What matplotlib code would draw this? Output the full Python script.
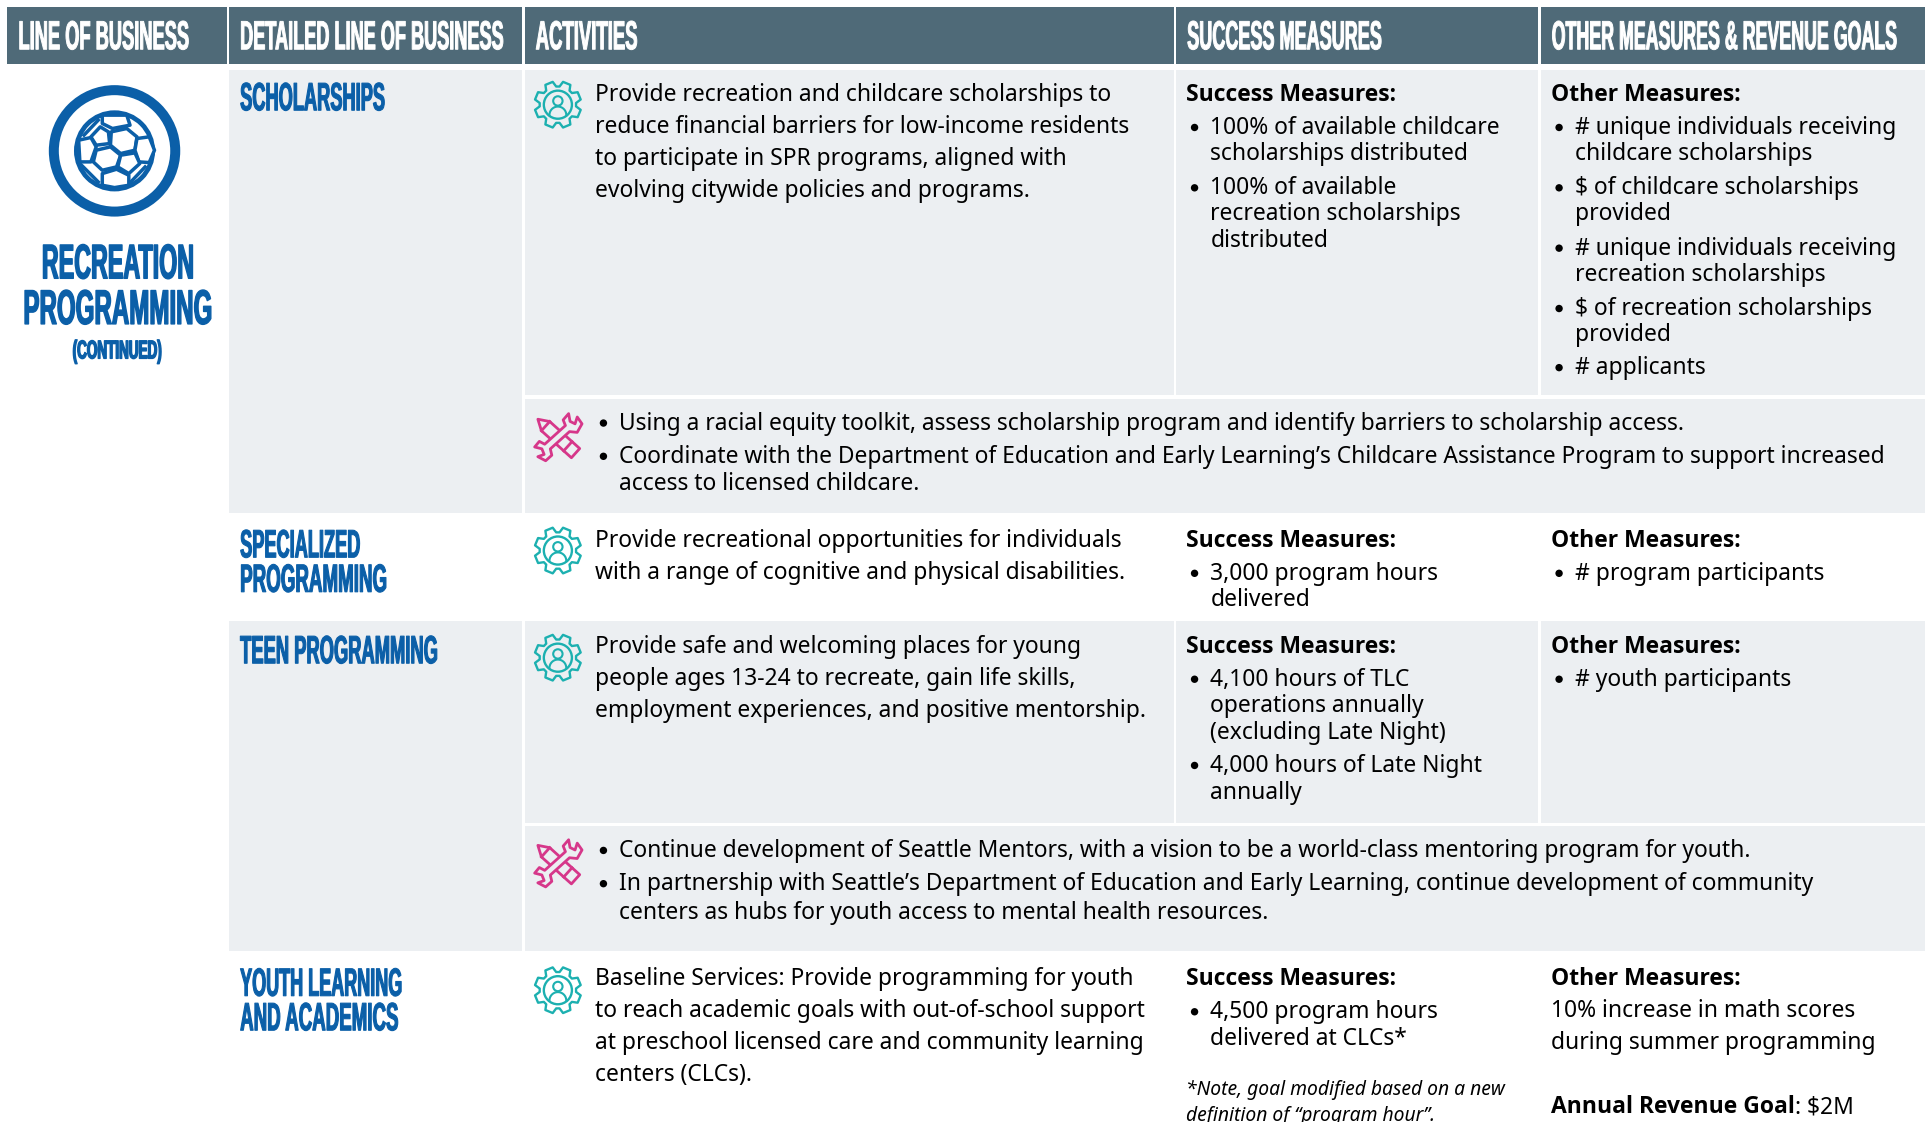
#!/usr/bin/env python3
"""Recreation programming table page, drawn in shrunk-reference pixel coordinates."""
import numpy as np, matplotlib
matplotlib.use('Agg')
import matplotlib.pyplot as plt
import matplotlib.patheffects as pe
from matplotlib.patches import Rectangle, Circle, Polygon
from matplotlib.transforms import Affine2D

# ---- Content ----
headers = [('LINE OF BUSINESS', 15, 153), ('DETAILED LINE OF BUSINESS', 195, 408), ('ACTIVITIES', 435, 517),
           ('SUCCESS MEASURES', 964, 1122), ('OTHER MEASURES & REVENUE GOALS', 1260, 1540)]
group_title = [('RECREATION', 34, 157, 226, 28.4), ('PROGRAMMING', 19, 172, 263, 28.4), ('(CONTINUED)', 59, 131, 291, 15)]
row_titles = [('SCHOLARSHIPS', 312, 89.5), ('SPECIALIZED', 292, 452.5), ('PROGRAMMING', 314, 480.5),
              ('TEEN PROGRAMMING', 355, 538.5), ('YOUTH LEARNING', 326, 808.5), ('AND ACADEMICS', 323, 836.5)]

activities = [
    ['Provide recreation and childcare scholarships to', 'reduce financial barriers for low-income residents',
     'to participate in SPR programs, aligned with', 'evolving citywide policies and programs.'],
    ['Provide recreational opportunities for individuals', 'with a range of cognitive and physical disabilities.'],
    ['Provide safe and welcoming places for young', 'people ages 13-24 to recreate, gain life skills,',
     'employment experiences, and positive mentorship.'],
    ['Baseline Services: Provide programming for youth', 'to reach academic goals with out-of-school support',
     'at preschool licensed care and community learning', 'centers (CLCs).'],
]
success = [
    [('100% of available childcare', 102, True), ('scholarships distributed', 123, False),
     ('100% of available', 151, True), ('recreation scholarships', 172, False), ('distributed', 194, False)],
    [('3,000 program hours', 464, True), ('delivered', 485, False)],
    [('4,100 hours of TLC', 550, True), ('operations annually', 571, False), ('(excluding Late Night)', 593, False),
     ('4,000 hours of Late Night', 620, True), ('annually', 642, False)],
    [('4,500 program hours', 820, True), ('delivered at CLCs*', 842, False)],
]
other = [
    [('# unique individuals receiving', 102, True), ('childcare scholarships', 123, False),
     ('$ of childcare scholarships', 151, True), ('provided', 172, False),
     ('# unique individuals receiving', 200, True), ('recreation scholarships', 221, False),
     ('$ of recreation scholarships', 249, True), ('provided', 270, False), ('# applicants', 297, True)],
    [('# program participants', 464, True)],
    [('# youth participants', 550, True)],
]
tasks = [
    [('Using a racial equity toolkit, assess scholarship program and identify barriers to scholarship access.', 342, True),
     ('Coordinate with the Department of Education and Early Learning\u2019s Childcare Assistance Program to support increased', 369, True),
     ('access to licensed childcare.', 391, False)],
    [('Continue development of Seattle Mentors, with a vision to be a world-class mentoring program for youth.', 689, True),
     ('In partnership with Seattle\u2019s Department of Education and Early Learning, continue development of community', 716, True),
     ('centers as hubs for youth access to mental health resources.', 739, False)],
]
youth_other = ['10% increase in math scores', 'during summer programming']
youth_note = ['*Note, goal modified based on a new', 'definition of \u201cprogram hour\u201d.']

# ---- Layout ----
col_x = [6, 186, 426, 955, 1251, 1563]
row_y = [56.5, 416.3, 504, 772, 911]
split_y = [322, 669]
activity_y = [[75, 101, 127, 153], [437, 463], [523, 549, 575], [793, 819, 845, 871]]
icon_y = [85, 447, 534, 804]
wrench_y = [355, 701]

HEAD = '#4f6a78'
GRAY = '#eceff2'
BLUE = '#0b5fa8'
TEAL = '#1cb0b0'
PINK = '#d6378a'
BODY = 'Noto Sans'
BOLD = 'Open Sans'
HEADFONT = 'Liberation Sans'
FS = 16.45

fig = plt.figure(figsize=(19.31, 11.22), dpi=100)
ax = fig.add_axes([0, 0, 1, 1])
ax.set_xlim(0, 1568); ax.set_ylim(911, 0); ax.axis('off')
rend = fig.canvas.get_renderer()


class Tall(pe.AbstractPathEffect):
    # no condensed face is installed: size text to its width, then stretch the outlines up from the baseline
    def __init__(self, sy, stroke=0.0):
        super().__init__()
        self.sy, self.stroke = sy, stroke

    def draw_path(self, renderer, gc, tpath, affine, rgbFace=None):
        y0 = affine.get_matrix()[1, 2]
        a = affine + Affine2D().translate(0, -y0).scale(1, self.sy).translate(0, y0)
        gc0 = renderer.new_gc()
        gc0.copy_properties(gc)
        if self.stroke:
            gc0.set_foreground(rgbFace)
            gc0.set_linewidth(self.stroke)
        renderer.draw_path(gc0, tpath, a, rgbFace)
        gc0.restore()


def cell(x0, x1, y0, y1, color):
    ax.add_patch(Rectangle((x0, y0), x1 - x0, y1 - y0, fc=color, ec='none', zorder=1))


def body(x, y, s, **kw):
    kw.setdefault('fontsize', FS)
    kw.setdefault('family', BODY)
    return ax.text(x - 0.7, y + 6.8, s, color='black', va='baseline', ha='left', zorder=3, **kw)


def bold(x, y, s):
    return body(x, y, s, family=BOLD, weight='bold')


def bullets(x, items):
    for s, y, first in items:
        if first:
            ax.add_patch(Circle((x + 6, y + 1.5), 3.0, fc='black', ec='none', zorder=3))
        body(x + 19.5, y, s)


def narrow(x0, x1, base, s, cap, color, stroke=1.0):
    t = ax.text(x0, base, s, family=HEADFONT, weight='bold', fontsize=10, color=color, va='baseline', ha='left', zorder=3)
    target = (ax.transData.transform((x1, 0))[0] - ax.transData.transform((x0, 0))[0])
    size = 10 * target / t.get_window_extent(rend).width
    t.set_fontsize(size)
    px = size * fig.dpi / 72 * 1568 / 1931       # em in drawing units
    t.set_path_effects([Tall(cap / (0.72 * px), stroke)])
    return t


def gear(cx, cy, r=19):
    n = 8
    ang, rad = [], []
    for i in range(n):
        a = 2 * np.pi * (i + 0.5) / n
        for d, q in [(-0.30, 0.78), (-0.17, 1.0), (0.17, 1.0), (0.30, 0.78)]:
            ang.append(a + d); rad.append(q)
    pts = np.c_[cx + r * np.array(rad) * np.cos(ang), cy + r * np.array(rad) * np.sin(ang)]
    ax.add_patch(Polygon(pts, closed=True, fc='none', ec=TEAL, lw=1.7, joinstyle='round', zorder=3))
    ax.add_patch(Circle((cx, cy), r * 0.60, fc='none', ec=TEAL, lw=1.7, zorder=3))
    ax.add_patch(Circle((cx, cy - r * 0.16), r * 0.20, fc='none', ec=TEAL, lw=1.5, zorder=3))
    t = np.linspace(np.pi, 2 * np.pi, 20)
    ax.plot(cx + r * 0.36 * np.cos(t), cy + r * 0.44 + r * 0.36 * np.sin(t), color=TEAL, lw=1.5, zorder=3)


def rot(cx, cy, p, deg, k=0.84):
    p = np.array(p, float) * k
    c, s = np.cos(np.radians(deg)), np.sin(np.radians(deg))
    return np.c_[cx + p[:, 0] * c - p[:, 1] * s, cy + p[:, 0] * s + p[:, 1] * c]


def wrench_pencil(cx, cy):
    # pencil runs top left to bottom right, wrench the other way
    ax.add_patch(Polygon(rot(cx, cy, [(-26, 0), (-16, -6), (23, -6), (23, 6), (-16, 6)], 42),
                         closed=True, fc=GRAY, ec=PINK, lw=2.0, joinstyle='round', zorder=3))
    for u in (-16, 13):
        xy = rot(cx, cy, [(u, -6), (u, 6)], 42)
        ax.plot(xy[:, 0], xy[:, 1], color=PINK, lw=2.0, zorder=3)
    p = [(-14, -3.5), (13, -3.5), (15, -9), (23, -10), (19, -3.5), (21, 1.5), (27, -2), (26, 6), (17, 9), (12, 3.5),
         (-13, 3.5), (-16, 9), (-24, 9), (-27, 1), (-21, 3.5), (-19, -2), (-23, -8), (-16, -9)]
    ax.add_patch(Polygon(rot(cx, cy, p, -42), closed=True, fc=GRAY, ec=PINK, lw=2.0, joinstyle='round', zorder=4))


def soccer(cx, cy):
    ax.add_patch(Circle((cx, cy), 49.3, fc='none', ec=BLUE, lw=7.2, zorder=3))
    ax.add_patch(Circle((cx, cy), 31, fc='white', ec=BLUE, lw=3.4, zorder=3))
    cells = [[(272, 395), (310, 385), (335, 410), (330, 450), (295, 460), (270, 435)],
             [(235, 450), (270, 440), (295, 465), (285, 500), (250, 510), (228, 485)],
             [(250, 345), (310, 345), (318, 375), (275, 385), (250, 370)],
             [(335, 415), (365, 410), (378, 450), (365, 487), (340, 485), (330, 450)],
             [(245, 380), (265, 395), (268, 430), (235, 435), (222, 410)],
             [(295, 465), (330, 458), (342, 490), (315, 520), (288, 500)],
             [(250, 520), (285, 507), (315, 525), (315, 555), (280, 562), (250, 555)],
             [(192, 420), (222, 412), (235, 440), (222, 485), (195, 485)]]
    for f in cells:
        f = np.array(f, float)
        ax.add_patch(Polygon(np.c_[cx + (f[:, 0] - 280) / 3.02, cy + (f[:, 1] - 452) / 3.69], closed=True,
                             fc='white', ec=BLUE, lw=2.5, joinstyle='round', zorder=4))
    for (a, b), (c, d) in [((205, 405), (240, 360)), ((320, 545), (355, 500)), ((195, 490), (240, 545))]:
        ax.plot([cx + (a - 280) / 3.02, cx + (c - 280) / 3.02], [cy + (b - 452) / 3.69, cy + (d - 452) / 3.69],
                color=BLUE, lw=2.5, zorder=4)


# ---- Header ----
for i, (h, x0, x1) in enumerate(headers):
    cell(col_x[i], col_x[i + 1] - (0 if i == 4 else 2), 6, 52, HEAD)
    narrow(x0, x1, 40, h, 23.7, 'white', stroke=0.7)

# ---- Shaded rows ----
for r in (0, 2):
    y0, y1 = row_y[r], row_y[r + 1]
    sy = split_y[r // 2]
    cell(col_x[1], col_x[2] - 2, y0, y1, GRAY)
    for i in (2, 3, 4):
        cell(col_x[i], col_x[i + 1] - (0 if i == 4 else 2), y0, sy - 1, GRAY)
    cell(col_x[2], col_x[5], sy + 2, y1, GRAY)

# ---- Left column ----
soccer(93, 122.5)
for s, x0, x1, base, cap in group_title:
    narrow(x0, x1, base, s, cap, BLUE)

# ---- Rows ----
for s, x1, base in row_titles:
    narrow(195, x1, base, s, 23, BLUE, stroke=0.8)

for r in range(4):
    for s, y in zip(activities[r], activity_y[r]):
        body(484, y, s)
    gear(453, icon_y[r])
    bold(964, activity_y[r][0], 'Success Measures:')
    bold(1260, activity_y[r][0], 'Other Measures:')
    bullets(964, success[r])
    if r < 3:
        bullets(1260, other[r])

for items, y in zip(tasks, wrench_y):
    wrench_pencil(453, y)
    bullets(484, items)

for s, y in zip(youth_other, (819, 845)):
    body(1260, y, s)
for s, y in zip(youth_note, (882, 903)):
    body(964, y, s, style='italic', fontsize=13.9)
t = bold(1260, 897, 'Annual Revenue Goal')
bb = t.get_window_extent(rend).transformed(ax.transData.inverted())
body(bb.x1 + 0.7, 897, ': $2M')

fig.savefig('out.png', dpi=100)
